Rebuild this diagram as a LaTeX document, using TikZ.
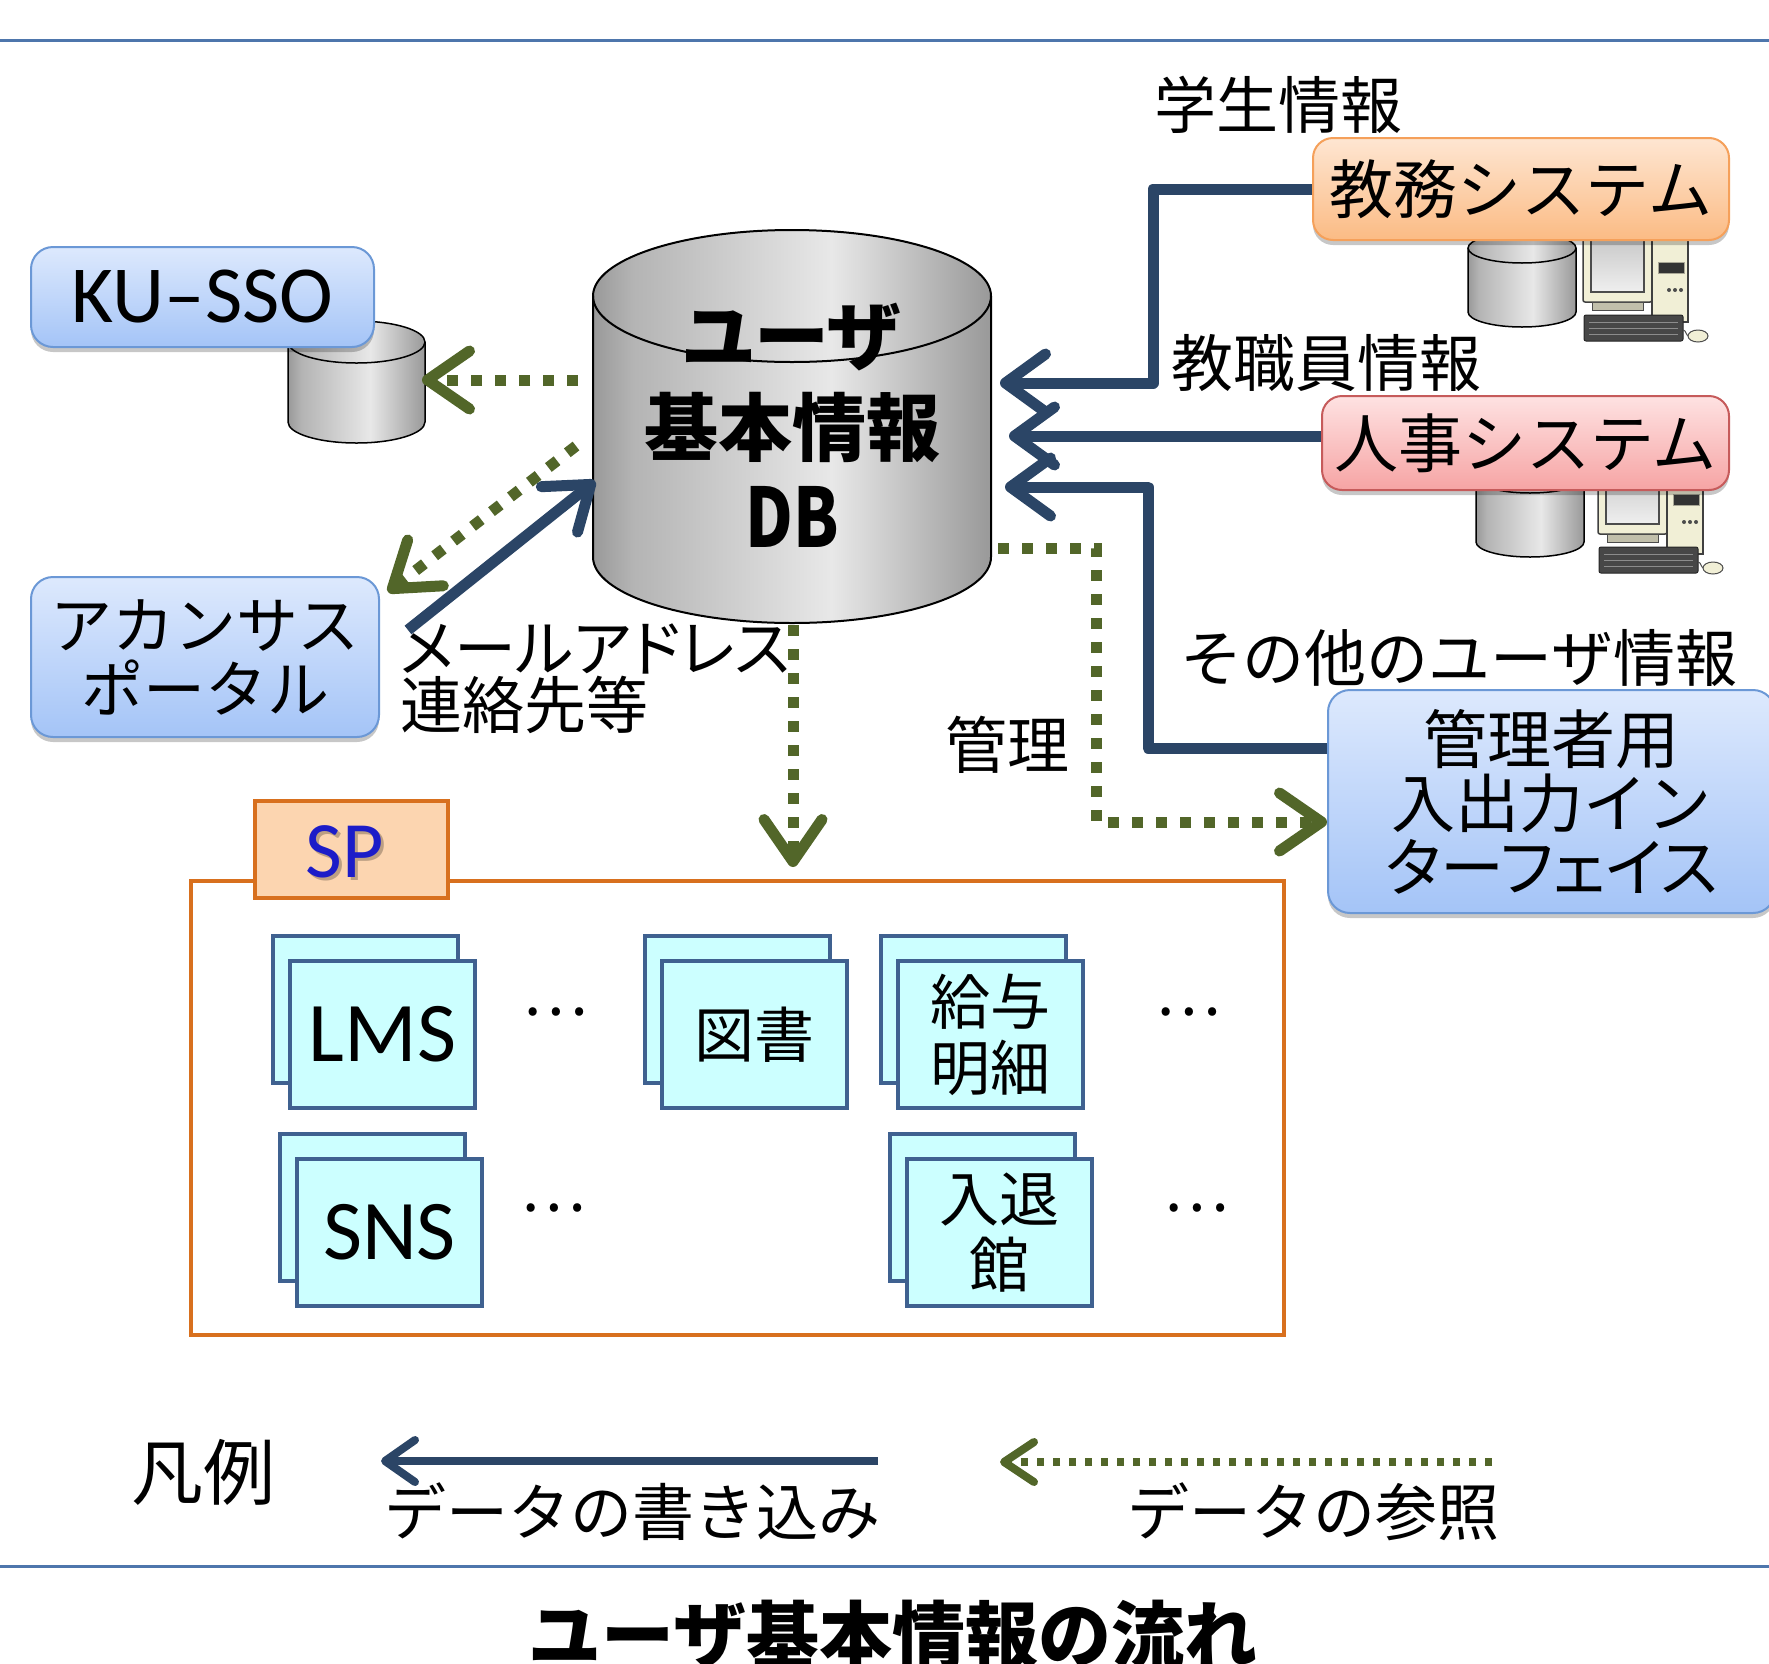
\documentclass[tikz,border=0pt]{standalone}
\usepackage{fontspec}
\setmainfont{Noto Sans CJK JP}
\newfontfamily\jpp[RawFeature=+palt]{Noto Sans CJK JP}
\newfontfamily\lat{Carlito}
\usetikzlibrary{arrows.meta,shadows,calc}

\definecolor{navy}{HTML}{2B4566}
\definecolor{olive}{HTML}{526629}
\definecolor{sepblue}{HTML}{4E76AC}
\definecolor{bluetop}{HTML}{DDE9FD}
\definecolor{bluebot}{HTML}{A4C4F7}
\definecolor{blueline}{HTML}{6B98D6}
\definecolor{orgtop}{HTML}{FEE6D2}
\definecolor{orgbot}{HTML}{FBBB84}
\definecolor{orgline}{HTML}{F5A05A}
\definecolor{pnktop}{HTML}{FEE2E2}
\definecolor{pnkbot}{HTML}{F6A4A4}
\definecolor{pnkline}{HTML}{C65B5B}
\definecolor{spline}{HTML}{D8701E}
\definecolor{sptab}{HTML}{FCD5B0}
\definecolor{spblue}{HTML}{1C1CC8}
\definecolor{cardfill}{HTML}{CCFFFF}
\definecolor{cardline}{HTML}{3F6190}
\definecolor{cylD}{HTML}{999999}
\definecolor{cylM}{HTML}{B4B4B4}
\definecolor{cylL}{HTML}{E8E8E8}
\definecolor{beige}{HTML}{F1EFD6}
\definecolor{scrA}{HTML}{BDBDBD}
\definecolor{scrB}{HTML}{EFEFEF}

\pgfdeclarehorizontalshading{drum}{100bp}{color(0bp)=(cylD); color(25bp)=(cylD); color(30bp)=(cylM); color(55bp)=(cylL); color(75bp)=(cylD); color(100bp)=(cylD)}

\newcommand\fsz[1]{\fontsize{#1}{#1}\selectfont}

% cylinder: x-left, x-radius, top centre y, bottom centre y, y-radius, line width
\newcommand\drum[6]{%
  \shadedraw[shading=drum, draw=black, line width=#6]
    (#1,#3) -- (#1,#4) arc[start angle=180,end angle=0,x radius=#2,y radius=#5]
    -- ++(0,#3-#4) arc[start angle=0,end angle=-180,x radius=#2,y radius=#5] -- cycle;
  \draw[line width=#6] (#1,#3) arc[start angle=180,end angle=0,x radius=#2,y radius=#5];
}

% disk drum plus desktop computer; shifts for drum and for computer
\newcommand\server[4]{%
  \begin{scope}[shift={(#1,#2)}]
    \drum{1468}{54}{248}{312}{15}{1.5pt}
  \end{scope}
  \begin{scope}[shift={(#3,#4)}]
    \draw[fill=beige, draw=black!75, line width=1.5pt, rounded corners=2pt] (1583,215) rectangle (1652,302);
    \draw[top color=scrA, bottom color=scrB, draw=black!70, line width=1.2pt] (1591,222) rectangle (1644,292);
    \draw[fill=beige!80!black, draw=black!70, line width=1pt] (1592,302) rectangle (1643,310);
    \draw[fill=beige, draw=black!75, line width=1.5pt] (1652,215) rectangle (1688,322);
    \draw[fill=black!80, draw=beige!70!black, line width=1pt] (1658,262) rectangle (1684,273);
    \fill[black!70] (1669,290) circle (2) (1675,290) circle (2) (1681,290) circle (2);
    \draw[fill=black!72, draw=black!85, line width=1pt, rounded corners=2pt] (1584,315) rectangle (1683,341);
    \draw[black!45, line width=1pt] (1589,322) -- (1678,322) (1589,328) -- (1678,328) (1589,334) -- (1678,334);
    \draw[black!70, line width=1pt] (1683,330) to[out=0,in=180] (1689,336);
    \draw[fill=beige, draw=black!70, line width=1pt] (1698,336) ellipse[x radius=10, y radius=6];
  \end{scope}
}

\tikzset{
  shadowed/.style={drop shadow={shadow xshift=0pt, shadow yshift=-5pt, opacity=0.22, fill=black}},
  bluebox/.style={shadowed, rounded corners=22pt, draw=blueline, line width=2pt,
    top color=bluetop, bottom color=bluebot, inner sep=0pt, align=center},
  orgbox/.style={shadowed, rounded corners=20pt, draw=orgline, line width=2pt,
    top color=orgtop, bottom color=orgbot, inner sep=0pt, align=center},
  pnkbox/.style={shadowed, rounded corners=20pt, draw=pnkline, line width=2pt,
    top color=pnktop, bottom color=pnkbot, inner sep=0pt, align=center},
  card/.style={draw=cardline, fill=cardfill, line width=4pt, minimum width=185pt,
    minimum height=147pt, inner sep=0pt, align=center},
  lbl/.style={font=\fsz{62}, inner sep=0pt},
  writearrow/.style={draw=navy, line width=11pt, line join=round,
    -{Straight Barb[round,length=40pt,width=58pt]}},
  readarrow/.style={draw=olive, line width=11pt, dash pattern=on 11pt off 13pt,
    -{Straight Barb[round,length=42pt,width=58pt]}},
  sepline/.style={draw=sepblue, line width=3pt},
}

\begin{document}
\begin{tikzpicture}[x=1pt,y=-1pt]
\useasboundingbox (0,0) rectangle (1769,1663);
\clip (0,0) rectangle (1769,1663);
\fill[white] (0,0) rectangle (1769,1663);

% separators
\draw[sepline] (0,40) -- (1769,40);
\draw[sepline] (0,1566) -- (1769,1566);

% central database
\drum{593}{199}{296}{557}{66}{2pt}
\node[font=\jpp\bfseries\fsz{75}, inner sep=0pt, anchor=base] (db1) at (792,364) {ユーザ};
\node[font=\bfseries\fsz{74}, inner sep=0pt, anchor=base] (db2) at (792,455) {基本情報};
\node[font=\bfseries\fsz{82}, inner sep=0pt, anchor=base] (db3) at (792,547) {\scalebox{0.8}[1]{DB}};

% KU-SSO
\drum{288}{68.5}{342}{422}{21}{1.5pt}
\node[bluebox, minimum width=343pt, minimum height=100pt, font=\lat\fsz{81}] (kusso) at (202.5,297) {KU–SSO};

% Acanthus portal
\node[bluebox, minimum width=348pt, minimum height=160pt, font=\fsz{62}] (portal) at (205,657)
  {アカンサス\\[2pt]ポータル};

% source systems
\server{0}{0}{0}{0}
\server{8}{230}{15}{232}
\node[orgbox, minimum width=416pt, minimum height=102pt, font=\fsz{64}] (kyomu) at (1521,189) {教務システム};
\node[pnkbox, minimum width=407pt, minimum height=94pt, font=\fsz{64}] (jinji) at (1525.5,443) {人事システム};
\node[bluebox, minimum width=447pt, minimum height=223pt, font=\fsz{64}] (kanri) at (1551.5,801.5)
  {管理者用\\[0pt]入出力イン\\[0pt]{\jpp ターフェイス}};

% labels
\node[lbl] (lstu) at (1278,105) {学生情報};
\node[lbl] (lstaff) at (1326,363) {教職員情報};
\node[lbl] (lother) at (1459,658) {その他のユーザ情報};
\node[lbl] (lman) at (1007,745) {管理};
\node[inner sep=0pt, anchor=north west, align=left, font=\fontsize{62}{54}\selectfont] (lmail) at (400,624)
  {{\jpp メールアドレス}\\連絡先等};

% end points on the database
\coordinate (dbw1) at (1000,383);
\coordinate (dbw2) at (1009,436);
\coordinate (dbw3) at (1005,487);
\coordinate (dbw4) at (595,481);
\coordinate (pw) at (408,630);
\coordinate (k1) at (1153,189);
\coordinate (k3) at (1148,748);
\coordinate (dbr1) at (578,380);
\coordinate (sso) at (422,380);
\coordinate (dbr2) at (576,446);
\coordinate (pr) at (388,592);
\coordinate (dbr3) at (793,625);
\coordinate (spin) at (793,867);
\coordinate (dbr4) at (998,548);
\coordinate (c4) at (1096,548);
\coordinate (c5) at (1096,822);

% writes into the database
\draw[writearrow] (kyomu.west |- k1) -- (k1) |- (dbw1);
\draw[writearrow] (jinji.west |- dbw2) -- (dbw2);
\draw[writearrow] (kanri.west |- k3) -- (k3) |- (dbw3);
\draw[writearrow] (pw) -- (dbw4);

% reads from the database
\draw[readarrow] (dbr1) -- (sso);
\draw[readarrow] (dbr2) -- (pr);
\draw[readarrow] (dbr3) -- (spin);
\draw[readarrow] (dbr4) -- (c4) -- (c5) -- (kanri.west |- c5);

% service providers
\node[draw=spline, line width=3.5pt, minimum width=1093pt, minimum height=454pt, inner sep=0pt] (spbox) at (737.5,1108) {};
\node[draw=spline, fill=sptab, line width=3.5pt, minimum width=193pt, minimum height=97pt, inner sep=0pt] (sptab) at (351.5,849.5) {};
\node[text=black, opacity=0.25, font=\lat\fsz{80}, inner sep=0pt] (spsh) at (348,855) {SP};
\node[text=spblue, font=\lat\fsz{80}, inner sep=0pt] (sp) at (345,852) {SP};

\node[card] (lmsb) at (365.5,1009.5) {};
\node[card, font=\lat\fsz{85}] (lms) at (382.5,1034.5) {LMS};
\node[card] (tosb) at (737.5,1009.5) {};
\node[card, font=\fsz{60}] (tos) at (754.5,1034.5) {図書};
\node[card] (kyub) at (973.5,1009.5) {};
\node[card, font=\fsz{60}] (kyu) at (990.5,1034.5) {給与\\[6pt]明細};
\node[card] (snsb) at (372.5,1207.5) {};
\node[card, font=\lat\fsz{85}] (sns) at (389.5,1232.5) {SNS};
\node[card] (nyub) at (982,1207.5) {};
\node[card, font=\fsz{60}] (nyu) at (999,1232.5) {入退\\[6pt]館};

\node[lbl] (d1) at (555,1012) {…};
\node[lbl] (d2) at (1188,1012) {…};
\node[lbl] (d3) at (553,1208) {…};
\node[lbl] (d4) at (1196,1208) {…};

% legend
\node[font=\fsz{72}, inner sep=0pt] (leg) at (203,1472) {凡例};
\coordinate (lw1) at (878,1461);
\coordinate (lw2) at (381,1461);
\coordinate (lr1) at (1492,1462);
\coordinate (lr2) at (1000,1462);
\draw[writearrow, line width=8pt, -{Straight Barb[round,length=30pt,width=42pt]}] (lw1) -- (lw2);
\draw[readarrow, line width=8pt, dash pattern=on 7pt off 9pt, -{Straight Barb[round,length=30pt,width=40pt]}] (lr1) -- (lr2);
\node[lbl] (lwt) at (632,1512) {データの書き込み};
\node[lbl] (lrt) at (1313,1512) {データの参照};

% caption
\node[font=\bfseries\fsz{73}, inner sep=0pt, anchor=base] (cap) at (893,1662) {ユーザ基本情報の流れ};
\end{tikzpicture}
\end{document}
